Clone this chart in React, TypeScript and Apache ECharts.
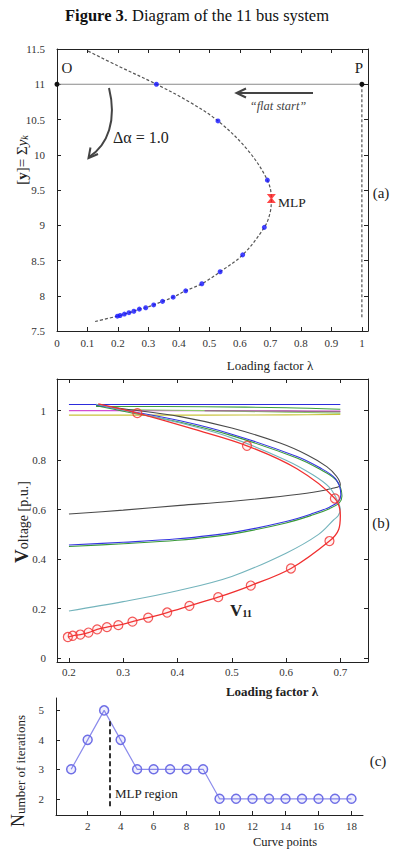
import React, { useEffect, useRef } from "react";
import * as echarts from "echarts";

const SERIF = "Liberation Serif";

// ---------- Panel (a): ||y|| along the continuation path ----------
const lambdaUpper = [0.326, 0.528, 0.69];
const lambdaLower = [0.68, 0.609, 0.535, 0.475, 0.422, 0.381, 0.346, 0.317, 0.291, 0.27, 0.252, 0.236, 0.221, 0.207, 0.198];
const normUpper = [11.0, 10.48, 9.64];
const normLower = [8.97, 8.58, 8.34, 8.17, 8.07, 7.98, 7.92, 7.87, 7.83, 7.81, 7.78, 7.76, 7.74, 7.72, 7.71];
const mlpPoint = [0.703, 9.38];
const normTraceHead = [[0.102, 11.47], [0.2, 11.26]];
const normTraceMid = [[0.43, 10.76], [0.625, 10.07]];
const normTraceNose = [[0.699, 9.18]];
const normTraceTail = [[0.12, 7.63]];
const flatStartLine = [[0, 11], [1, 11]];
const flatStartDrop = [[1, 11], [1, 7.69]];

// ---------- Panel (b): bus voltages against loading factor ----------
const v11Upper = [0.99, 0.858, 0.645];
const v11Lower = [0.473, 0.362, 0.293, 0.246, 0.211, 0.184, 0.163, 0.147, 0.133, 0.125, 0.116, 0.103, 0.095, 0.09, 0.085];
const v11Head = [[0.254, 1.027]];
const v11Mid = [[0.43, 0.925], [0.62, 0.765]];
const v11Nose = [[0.7, 0.575], [0.697, 0.52]];

const genBlue = [[0.2, 1.025], [0.45, 1.025], [0.7, 1.025]];
const genGreen = [[0.25, 1.017], [0.45, 1.016], [0.6, 1.012], [0.7, 1.006]];
const genLightGreen = [[0.3, 1.004], [0.45, 1.0], [0.6, 0.994], [0.7, 0.99]];
const genMauve = [[0.45, 1.0], [0.6, 0.998], [0.7, 0.996]];
const genMagenta = [[0.2, 1.0], [0.45, 1.0], [0.6, 0.999], [0.7, 0.998]];
const genYellow = [[0.2, 0.982], [0.45, 0.982], [0.6, 0.983], [0.7, 0.985]];

const busGray = [[0.25, 1.022], [0.3, 1.008], [0.405, 0.976], [0.5, 0.93], [0.589, 0.869], [0.64, 0.82], [0.675, 0.774], [0.693, 0.735], [0.7, 0.7], [0.688, 0.687], [0.65, 0.67], [0.589, 0.653], [0.497, 0.633], [0.405, 0.617], [0.3, 0.598], [0.2, 0.582]];
const busBlue = [[0.25, 1.024], [0.3, 1.003], [0.405, 0.959], [0.5, 0.905], [0.62, 0.815], [0.66, 0.772], [0.691, 0.725], [0.701, 0.66], [0.696, 0.632], [0.68, 0.61], [0.65, 0.585], [0.6, 0.552], [0.5, 0.507], [0.4, 0.482], [0.3, 0.468], [0.2, 0.457]];
const busGreen = [[0.25, 1.02], [0.3, 0.998], [0.405, 0.953], [0.5, 0.899], [0.62, 0.809], [0.66, 0.766], [0.692, 0.72], [0.703, 0.655], [0.698, 0.627], [0.68, 0.604], [0.65, 0.579], [0.6, 0.546], [0.5, 0.501], [0.4, 0.476], [0.3, 0.462], [0.2, 0.451]];
const busTeal = [[0.25, 1.026], [0.3, 1.002], [0.405, 0.95], [0.5, 0.89], [0.6, 0.8], [0.65, 0.74], [0.68, 0.69], [0.695, 0.635], [0.7, 0.6], [0.696, 0.575], [0.688, 0.559], [0.66, 0.5], [0.6, 0.424], [0.5, 0.33], [0.4, 0.272], [0.3, 0.228], [0.2, 0.19]];

// ---------- Panel (c): Newton iterations per curve point ----------
const curvePoints = [1, 2, 3, 4, 5, 6, 7, 8, 9, 10, 11, 12, 13, 14, 15, 16, 17, 18];
const iterations = [3, 4, 5, 4, 3, 3, 3, 3, 3, 2, 2, 2, 2, 2, 2, 2, 2, 2];
const mlpRegionX = 3.35;
const mlpRegionSpan = [4.63, 1.74];

// ---------- tick positions ----------
const ticksAX = [0, 0.1, 0.2, 0.3, 0.4, 0.5, 0.6, 0.7, 0.8, 0.9, 1];
const ticksAY = [7.5, 8, 8.5, 9, 9.5, 10, 10.5, 11, 11.5];
const ticksBX = [0.2, 0.3, 0.4, 0.5, 0.6, 0.7];
const ticksBY = [0, 0.2, 0.4, 0.6, 0.8, 1];
const ticksCX = [2, 4, 6, 8, 10, 12, 14, 16, 18];
const ticksCY = [2, 3, 4, 5];

const zip = (xs: number[], ys: number[]) => xs.map((x, i) => [x, ys[i]]);

const lineCol = "#222";
const labelStyle = { fontFamily: SERIF, fontSize: 11, color: "#333" };

function axis(
  gridIndex: number,
  min: number,
  max: number,
  ticks: number[],
  position: string,
  showLabel: boolean,
  margin = 8
) {
  return {
    type: "value",
    gridIndex,
    min,
    max,
    position,
    splitLine: { show: false },
    axisLine: { show: true, onZero: false, lineStyle: { color: lineCol, width: 1 } },
    axisTick: { show: true, inside: true, length: 4, customValues: ticks, lineStyle: { color: lineCol } },
    axisLabel: { show: showLabel, customValues: ticks, margin, ...labelStyle },
  };
}

function curve(data: number[][], color: string, width = 1.1, z = 2) {
  return {
    type: "line",
    xAxisIndex: 2,
    yAxisIndex: 2,
    data,
    smooth: 0.35,
    showSymbol: false,
    symbol: "none",
    z,
    lineStyle: { color, width },
    silent: true,
  };
}

const hourglass = "path://M0,0 L10,0 L6,5 L10,10 L0,10 L4,5 Z";

export default function App() {
  const ref = useRef<HTMLDivElement>(null);

  useEffect(() => {
    if (!ref.current) return;
    const chart = echarts.init(ref.current, undefined, { renderer: "svg" });

    const normTrace = [
      ...normTraceHead,
      [lambdaUpper[0], normUpper[0]],
      normTraceMid[0],
      [lambdaUpper[1], normUpper[1]],
      normTraceMid[1],
      [lambdaUpper[2], normUpper[2]],
      mlpPoint,
      ...normTraceNose,
      ...zip(lambdaLower, normLower),
      ...normTraceTail,
    ];
    const v11Trace = [
      ...v11Head,
      [lambdaUpper[0], v11Upper[0]],
      v11Mid[0],
      [lambdaUpper[1], v11Upper[1]],
      v11Mid[1],
      [lambdaUpper[2], v11Upper[2]],
      ...v11Nose,
      ...zip(lambdaLower, v11Lower),
    ];

    const txt = (x: number, y: number, text: string, extra: any = {}, rich?: any, rotation = 0) => ({
      type: "text",
      x,
      y,
      rotation,
      silent: true,
      style: {
        text,
        fontFamily: SERIF,
        fontSize: 12,
        fill: "#222",
        align: "center",
        verticalAlign: "middle",
        textAlign: "center",
        textVerticalAlign: "middle",
        rich,
        ...extra,
      },
    });

    const option: any = {
      animation: false,
      grid: [
        { left: 57, top: 49, width: 311, height: 282, containLabel: false },
        { left: 57, top: 379, width: 311, height: 283, containLabel: false },
        { left: 56, top: 698, width: 307, height: 117, containLabel: false },
      ],
      xAxis: [
        axis(0, 0, 1.02, ticksAX, "bottom", true, 6),
        axis(0, 0, 1.02, ticksAX, "top", false),
        axis(1, 0.178, 0.751, ticksBX, "bottom", true, 4),
        axis(1, 0.178, 0.751, ticksBX, "top", false),
        axis(2, 0.08, 18.7, ticksCX, "bottom", true, 5),
      ],
      yAxis: [
        axis(0, 7.5, 11.5, ticksAY, "left", true, 12),
        axis(0, 7.5, 11.5, ticksAY, "right", false),
        axis(1, -0.016, 1.128, ticksBY, "left", true, 11),
        axis(1, -0.016, 1.128, ticksBY, "right", false),
        axis(2, 1.45, 5.42, ticksCY, "left", true, 12),
      ],
      series: [
        // ----- (a) -----
        {
          type: "line",
          xAxisIndex: 0,
          yAxisIndex: 0,
          data: flatStartLine,
          symbol: "circle",
          symbolSize: 5,
          itemStyle: { color: "#111" },
          lineStyle: { color: "#8a8a8a", width: 1 },
          z: 1,
        },
        {
          type: "line",
          xAxisIndex: 0,
          yAxisIndex: 0,
          data: flatStartDrop,
          showSymbol: false,
          symbol: "none",
          lineStyle: { color: "#333", width: 1, type: [3, 2] },
          z: 1,
        },
        {
          type: "line",
          xAxisIndex: 0,
          yAxisIndex: 0,
          data: normTrace,
          smooth: 0.35,
          showSymbol: false,
          symbol: "none",
          lineStyle: { color: "#555", width: 1.2, type: [3, 2] },
          z: 2,
        },
        {
          type: "scatter",
          xAxisIndex: 0,
          yAxisIndex: 0,
          data: [...zip(lambdaUpper, normUpper), ...zip(lambdaLower, normLower)],
          symbolSize: 5,
          itemStyle: { color: "#1414ff" },
          z: 3,
        },
        {
          type: "scatter",
          xAxisIndex: 0,
          yAxisIndex: 0,
          data: [mlpPoint],
          symbol: hourglass,
          symbolSize: 9,
          itemStyle: { color: "#ff1a1a" },
          z: 4,
        },
        // ----- (b) -----
        curve(genYellow, "#c9c23a"),
        curve(genMagenta, "#d24fd2"),
        curve(genLightGreen, "#8ccb6e"),
        curve(genMauve, "#9a6a8e"),
        curve(genGreen, "#3c9e3c"),
        curve(genBlue, "#2c2cdc"),
        curve(busGray, "#4a4a4a"),
        curve(busGreen, "#3a9a3a"),
        curve(busBlue, "#3535e0"),
        curve(busTeal, "#74b4bc"),
        curve(v11Trace, "#f03030", 1.3, 4),
        {
          type: "scatter",
          xAxisIndex: 2,
          yAxisIndex: 2,
          data: [...zip(lambdaUpper, v11Upper), ...zip(lambdaLower, v11Lower)],
          symbol: "circle",
          symbolSize: 9,
          itemStyle: { color: "rgba(255,120,120,0.12)", borderColor: "#f03030", borderWidth: 1.2 },
          z: 5,
        },
        // ----- (c) -----
        {
          type: "line",
          xAxisIndex: 4,
          yAxisIndex: 4,
          data: zip(curvePoints, iterations),
          symbol: "circle",
          symbolSize: 9,
          itemStyle: { color: "rgba(120,120,240,0.12)", borderColor: "#6f6fe6", borderWidth: 1.5 },
          lineStyle: { color: "#8c8cec", width: 1.2 },
          markLine: {
            silent: true,
            symbol: "none",
            label: { show: false },
            lineStyle: { color: "#333", width: 2, type: [5, 3] },
            data: [[{ coord: [mlpRegionX, mlpRegionSpan[0]] }, { coord: [mlpRegionX, mlpRegionSpan[1]] }]],
          },
        },
      ],
      graphic: [
        txt(197, 15, "{b|Figure 3}{r|. Diagram of the 11 bus system}", { fontSize: 16.5, fill: "#111" }, {
          b: { fontFamily: SERIF, fontSize: 16.5, fontWeight: "bold", fill: "#111" },
          r: { fontFamily: SERIF, fontSize: 16.5, fill: "#111" },
        }),
        // panel (a) annotations
        txt(67, 68, "O", { fontSize: 15 }),
        txt(359, 68, "P", { fontSize: 15 }),
        { type: "line", silent: true, shape: { x1: 313, y1: 93, x2: 238, y2: 93 }, style: { stroke: "#444", lineWidth: 2 } },
        { type: "polyline", silent: true, shape: { points: [[246, 88.5], [236.5, 93], [246, 97.5]] }, style: { stroke: "#444", lineWidth: 2, fill: null } },
        txt(278, 106, "\u201Cflat start\u201D", { fontSize: 12.5, fontStyle: "italic", fill: "#444" }),
        {
          type: "bezierCurve",
          silent: true,
          shape: { x1: 109, y1: 88, cpx1: 117, cpy1: 120, cpx2: 108, cpy2: 145, x2: 89, y2: 157 },
          style: { stroke: "#444", lineWidth: 2, fill: null },
        },
        { type: "polyline", silent: true, shape: { points: [[90.5, 147.5], [88.5, 158], [98, 154]] }, style: { stroke: "#444", lineWidth: 2, fill: null } },
        txt(113, 137, "\u0394\u03B1 = 1.0", { fontSize: 16, align: "left", textAlign: "left" }),
        txt(278, 202, "MLP", { fontSize: 13.5, align: "left", textAlign: "left" }),
        txt(381, 193, "(a)", { fontSize: 15 }),
        txt(270, 365, "Loading factor \u03BB", { fontSize: 13 }),
        txt(
          22,
          160,
          "{a|[}{b|y}{a|]= \u03A3}{i|y}{s|k}",
          { fontSize: 15 },
          {
            a: { fontFamily: SERIF, fontSize: 15, fill: "#222", verticalAlign: "bottom" },
            b: { fontFamily: SERIF, fontSize: 15, fontWeight: "bold", fill: "#222", verticalAlign: "bottom" },
            i: { fontFamily: SERIF, fontSize: 15, fontStyle: "italic", fill: "#222", verticalAlign: "bottom" },
            s: { fontFamily: SERIF, fontSize: 10, fontStyle: "italic", fill: "#222", verticalAlign: "bottom", lineHeight: 10 },
          },
          Math.PI / 2
        ),
        // panel (b) annotations
        txt(381, 523, "(b)", { fontSize: 15 }),
        txt(241, 610, "{v|V}{s|11}", { fontSize: 16 }, {
          v: { fontFamily: SERIF, fontSize: 17, fontWeight: "bold", fill: "#222", verticalAlign: "bottom" },
          s: { fontFamily: SERIF, fontSize: 10.5, fontWeight: "bold", fill: "#222", verticalAlign: "bottom", lineHeight: 10 },
        }),
        txt(272, 691, "Loading factor \u03BB", { fontSize: 13, fontWeight: "bold" }),
        txt(
          21,
          522,
          "{v|V}{t|oltage [p.u.]}",
          { fontSize: 14 },
          {
            v: { fontFamily: SERIF, fontSize: 19, fontWeight: "bold", fill: "#222", verticalAlign: "bottom" },
            t: { fontFamily: SERIF, fontSize: 14, fill: "#222", verticalAlign: "bottom" },
          },
          Math.PI / 2
        ),
        // panel (c) annotations
        txt(115, 793, "MLP region", { fontSize: 13, align: "left", textAlign: "left" }),
        txt(378, 761, "(c)", { fontSize: 15 }),
        txt(285, 842, "Curve points", { fontSize: 12.5 }),
        txt(
          18,
          771,
          "{n|N}{t|umber of iterations}",
          { fontSize: 13 },
          {
            n: { fontFamily: SERIF, fontSize: 18, fill: "#222", verticalAlign: "bottom" },
            t: { fontFamily: SERIF, fontSize: 13, fill: "#222", verticalAlign: "bottom" },
          },
          Math.PI / 2
        ),
      ],
    };

    chart.setOption(option);
    return () => chart.dispose();
  }, []);

  return (
    <div
      ref={ref}
      style={{ position: "fixed", left: 0, top: 0, width: 393, height: 850, background: "#fff" }}
    />
  );
}
